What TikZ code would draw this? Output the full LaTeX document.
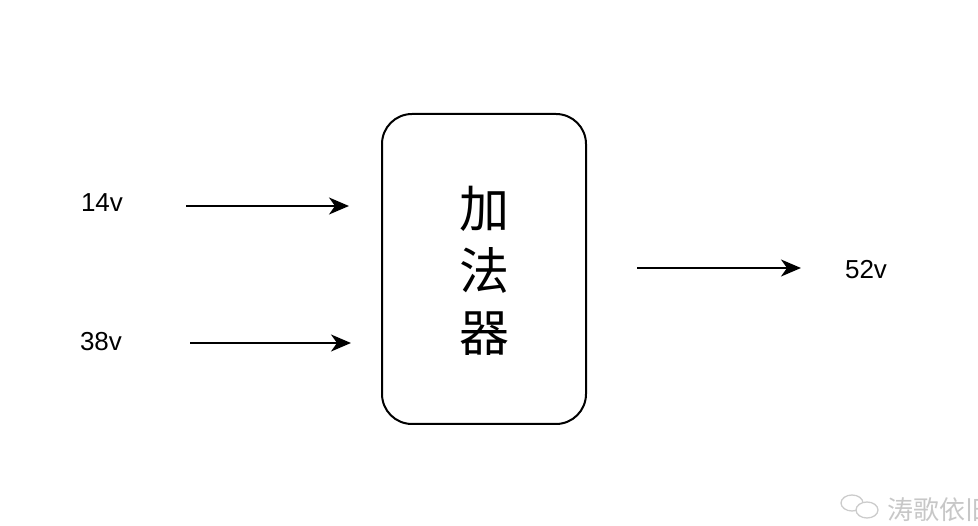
\documentclass[tikz,border=0pt]{standalone}
\usepackage{fontspec}
\setmainfont{Liberation Sans}
\newfontfamily\cjk{Noto Sans CJK SC}
\usetikzlibrary{arrows.meta}
\begin{document}
\begin{tikzpicture}[x=1pt,y=-1pt,
  conn/.style={line width=2pt,-{Stealth[length=20pt,width=17pt,inset=6pt]}},
  lbl/.style={font=\fontsize{26}{26}\selectfont,inner sep=0pt},
  adder/.style={draw,line width=2pt,rounded corners=30pt,minimum width=204pt,minimum height=310pt,inner sep=0pt},
  wmline/.style={draw=black!20,line width=1.3pt}]
\useasboundingbox (0,0) rectangle (978,526);
\node[adder] (box) at (484,269) {};
\node[font=\cjk\fontsize{50}{62}\selectfont,align=center] (txt) at (484,271) {加\\法\\器};
\node[lbl] (in1) at (102,203) {14v};
\node[lbl] (in2) at (101,342) {38v};
\node[lbl] (out) at (866,270) {52v};
\coordinate (a1s) at (186,206); \coordinate (a1e) at (349,206);
\coordinate (a2s) at (190,343); \coordinate (a2e) at (351,343);
\coordinate (a3s) at (637,268); \coordinate (a3e) at (801,268);
\draw[conn] (a1s) -- (a1e);
\draw[conn] (a2s) -- (a2e);
\draw[conn] (a3s) -- (a3e);
\begin{scope}
\clip (0,0) rectangle (978,526);
\draw[wmline] (852,503) ellipse [x radius=11, y radius=8];
\draw[wmline,fill=white] (867,510) ellipse [x radius=11, y radius=8];
\node[font=\cjk\fontsize{26}{26}\selectfont,text=black!22,anchor=west,inner sep=0pt] (wm) at (887,510) {涛歌依旧};
\end{scope}
\end{tikzpicture}
\end{document}
